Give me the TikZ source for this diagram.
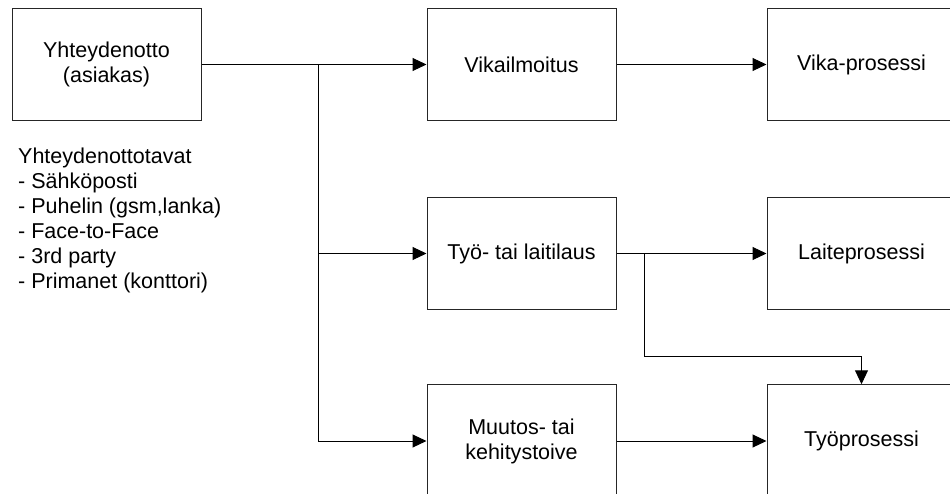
\documentclass[tikz,border=0pt]{standalone}
\usepackage{fontspec}
\setmainfont{Liberation Sans}
\usetikzlibrary{arrows.meta}
\begin{document}
\begin{tikzpicture}[x=1pt,y=-1pt,
  every node/.style={font=\fontsize{21.5}{25}\selectfont},
  box/.style={draw=black!85,line width=1pt,minimum width=189pt,minimum height=112.5pt,inner sep=0pt,align=center},
  arr/.style={draw=black,line width=1pt,-{Triangle[length=14pt,width=13pt]}},
  ln/.style={draw=black,line width=1pt}]
\useasboundingbox (0,0) rectangle (950,494);
\clip (0,0) rectangle (950,494);
\fill[white] (0,0) rectangle (950,494);
% boxes
\node[box] (A) at (106.5,64.5) {Yhteydenotto\\(asiakas)};
\node[box] (V) at (521.5,64.5) {Vikailmoitus};
\node[box] (VP) at (861.5,64.5) {Vika-prosessi};
\node[box] (T) at (521.5,253.5) {Työ- tai laitilaus};
\node[box] (L) at (861.5,253.5) {Laiteprosessi};
\node[box] (M) at (521.5,441) {Muutos- tai\\kehitystoive};
\node[box] (TP) at (861.5,441) {Työprosessi};
% list text
\node[anchor=north west,inner sep=0pt,align=left] (list) at (18,148)
  {Yhteydenottotavat\\- Sähköposti\\- Puhelin (gsm,lanka)\\- Face-to-Face\\- 3rd party\\- Primanet (konttori)};
% connectors
\coordinate (J) at (318,64.5);
\coordinate (K) at (644,253.5);
\coordinate (K2) at (644,356.5);
\draw[arr] (A.east) -- (V.west);
\draw[arr] (J) |- (T.west);
\draw[arr] (J) |- (M.west);
\draw[arr] (V.east) -- (VP.west);
\draw[arr] (T.east) -- (L.west);
\draw[ln] (K) -- (K2);
\draw[arr] (K2) -| (TP.north);
\draw[arr] (M.east) -- (TP.west);
\end{tikzpicture}
\end{document}
